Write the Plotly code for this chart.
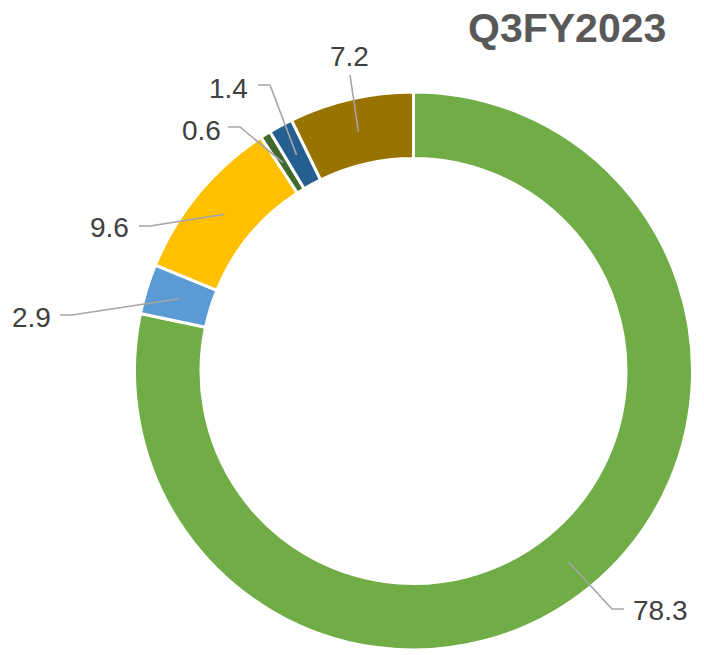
import math
import plotly.graph_objects as go

# ---- data ----
categories = ["A", "B", "C", "D", "E", "F"]
values = [78.3, 2.9, 9.6, 0.6, 1.4, 7.2]
colors = ["#70AD47", "#5B9BD5", "#FFC000", "#43682B", "#255E91", "#997300"]
title_text = "Q3FY2023"

# ---- layout constants (pixels) ----
W, H = 704, 655
CX, CY = 413.5, 371.0
R_OUT, R_IN = 279.0, 212.5
# label placement: (text x, text y, xanchor, elbow x, elbow y, line end x, line end y)
label_layout = [
    (631, 610, "left", 612, 609, 624, 609),
    (53, 317, "right", 72, 315, 60, 315),
    (131, 227, "right", 150, 226, 139, 226),
    (223, 130, "right", 240, 127, 228, 127),
    (250, 88, "right", 270, 85, 258, 85),
    (349, 56, "center", 350, 75, 350, 75),
]

fig = go.Figure()
fig.add_trace(go.Pie(
    labels=categories, values=values, sort=False, direction="clockwise",
    rotation=0, hole=R_IN / R_OUT, textinfo="none", hoverinfo="label+value",
    marker=dict(colors=colors, line=dict(color="white", width=3)),
    domain=dict(x=[(CX - R_OUT) / W, (CX + R_OUT) / W],
                y=[1 - (CY + R_OUT) / H, 1 - (CY - R_OUT) / H]),
    showlegend=False,
))

total = sum(values)
cum = 0.0
r_mid = (R_OUT + R_IN) / 2
shapes = []
annotations = []
for v, lay in zip(values, label_layout):
    mid = (cum + v / 2) / total * 2 * math.pi
    cum += v
    ax = CX + r_mid * math.sin(mid)
    ay = CY - r_mid * math.cos(mid)
    tx, ty, xa, ex, ey, lx, ly = lay
    path = f"M {lx},{ly} L {ex},{ey} L {ax:.1f},{ay:.1f}"
    shapes.append(dict(type="path", path=path, xref="x", yref="y",
                       line=dict(color="#A6A6A6", width=1.6)))
    annotations.append(dict(x=tx, y=ty, xref="x", yref="y", text=f"{v}",
                            showarrow=False, xanchor=xa, yanchor="middle",
                            font=dict(family="Liberation Sans, Arial", size=28, color="#404040")))

annotations.append(dict(x=567, y=28, xref="x", yref="y", text=f"<b>{title_text}</b>",
                        showarrow=False, xanchor="center", yanchor="middle",
                        font=dict(family="Liberation Sans, Arial", size=41, color="#595959")))

fig.update_layout(
    width=W, height=H, margin=dict(l=0, r=0, t=0, b=0),
    paper_bgcolor="white", plot_bgcolor="rgba(0,0,0,0)",
    xaxis=dict(range=[0, W], visible=False, fixedrange=True),
    yaxis=dict(range=[H, 0], visible=False, fixedrange=True),
    shapes=shapes, annotations=annotations,
)
fig.write_html("out.html", config={"displayModeBar": False},
               post_script="document.body.style.margin='0';document.body.style.overflow='hidden';")
